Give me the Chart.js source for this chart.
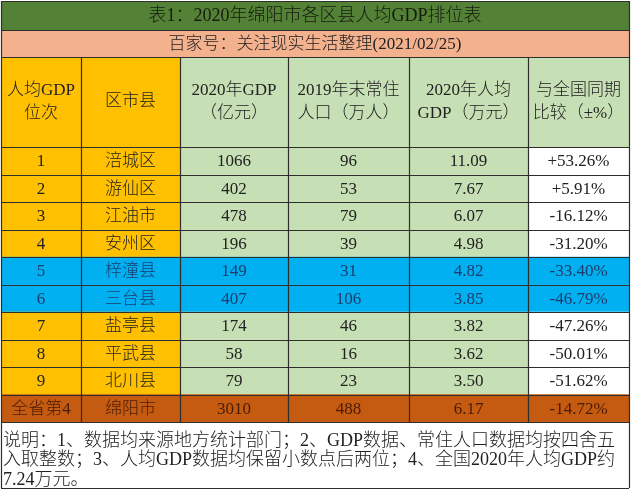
<!DOCTYPE HTML>
<html>
<head>
  <meta charset="utf-8">
  <script src="https://cdn.jsdelivr.net/npm/chart.js"></script>
  <style>
    body { margin: 0; background: #fff; }
  </style>
</head>
<body>
  <canvas id="tableChart" width="632" height="500"></canvas>

  <script>
    // Table data
    var RANKS = ['1', '2', '3', '4', '5', '6', '7', '8', '9', '全省第4'];
    var DISTRICTS = ['涪城区', '游仙区', '江油市', '安州区', '梓潼县', '三台县', '盐亭县', '平武县', '北川县', '绵阳市'];
    var GDP_2020 = [1066, 402, 478, 196, 149, 407, 174, 58, 79, 3010];
    var POP_2019 = [96, 53, 79, 39, 31, 106, 46, 16, 23, 488];
    var GDP_PER_CAPITA = [11.09, 7.67, 6.07, 4.98, 4.82, 3.85, 3.82, 3.62, 3.50, 6.17];
    var VS_NATIONAL = [53.26, 5.91, -16.12, -31.20, -33.40, -46.79, -47.26, -50.01, -51.62, -14.72];

    var HEADERS = [
      ['人均GDP', '位次'],
      ['区市县'],
      ['2020年GDP', '（亿元）'],
      ['2019年末常住', '人口（万人）'],
      ['2020年人均', 'GDP（万元）'],
      ['与全国同期', '比较（±%）']
    ];
    var TITLE = '表1：2020年绵阳市各区县人均GDP排位表';
    var SUBTITLE = '百家号：关注现实生活整理(2021/02/25)';
    var NOTE = [
      '说明：1、数据均来源地方统计部门；2、GDP数据、常住人口数据均按四舍五',
      '入取整数；3、人均GDP数据均保留小数点后两位；4、全国2020年人均GDP约',
      '7.24万元。'
    ];
    var BLUE_ROWS = [4, 5];
    var TOTAL_ROW = 9;

    // layout (pixels of the table)
    var COL_EDGES = [1, 81, 180, 288, 409, 528, 629];
    var TITLE_TOP = 1, TITLE_BOTTOM = 30, SUB_BOTTOM = 57, NOTE_BOTTOM = 488;

    // colours
    var ORANGE = '#ffc000', LIGHT_GREEN = '#c6dfb4', BLUE = '#00b0f0',
        BROWN = '#c55a11', WHITE = '#ffffff', TITLE_GREEN = '#538135', SALMON = '#f4b18e';
    var FONT = '"Liberation Serif", "Noto Sans CJK SC", serif';

    function cellText(row, col) {
      switch (col) {
        case 0: return RANKS[row];
        case 1: return DISTRICTS[row];
        case 2: return String(GDP_2020[row]);
        case 3: return String(POP_2019[row]);
        case 4: return GDP_PER_CAPITA[row].toFixed(2);
        default:
          var v = VS_NATIONAL[row];
          return (v > 0 ? '+' : '') + v.toFixed(2) + '%';
      }
    }

    function cellColor(row, col) {
      if (BLUE_ROWS.indexOf(row) >= 0) return BLUE;
      if (row === TOTAL_ROW) return BROWN;
      if (col < 2) return ORANGE;
      if (col === 5) return WHITE;
      return LIGHT_GREEN;
    }

    function textColor(row) {
      if (BLUE_ROWS.indexOf(row) >= 0) return '#1d3c6e';
      if (row === TOTAL_ROW) return '#4a1c02';
      return '#222';
    }

    // one floating-bar dataset per table column
    var datasets = HEADERS.map(function (h, col) {
      return {
        label: h.join(''),
        data: RANKS.map(function () { return [COL_EDGES[col], COL_EDGES[col + 1]]; }),
        backgroundColor: function (c) { return cellColor(c.dataIndex, col); },
        borderWidth: 0,
        grouped: false,
        barPercentage: 1,
        categoryPercentage: 1
      };
    });

    var tablePlugin = {
      id: 'tablePlugin',
      beforeDatasetsDraw: function (chart) {
        var ctx = chart.ctx, a = chart.chartArea, x = chart.scales.x;
        var left = x.getPixelForValue(COL_EDGES[0]), right = x.getPixelForValue(COL_EDGES[6]);
        ctx.save();
        ctx.fillStyle = TITLE_GREEN;
        ctx.fillRect(left, TITLE_TOP, right - left, TITLE_BOTTOM - TITLE_TOP);
        ctx.fillStyle = SALMON;
        ctx.fillRect(left, TITLE_BOTTOM, right - left, SUB_BOTTOM - TITLE_BOTTOM);
        for (var c = 0; c < 6; c++) {
          var x0 = x.getPixelForValue(COL_EDGES[c]), x1 = x.getPixelForValue(COL_EDGES[c + 1]);
          ctx.fillStyle = c < 2 ? ORANGE : LIGHT_GREEN;
          ctx.fillRect(x0, SUB_BOTTOM, x1 - x0, a.top - SUB_BOTTOM);
        }
        ctx.restore();
      },
      afterDatasetsDraw: function (chart) {
        var ctx = chart.ctx, a = chart.chartArea, x = chart.scales.x, y = chart.scales.y;
        var left = x.getPixelForValue(COL_EDGES[0]), right = x.getPixelForValue(COL_EDGES[6]);
        var step = (a.bottom - a.top) / RANKS.length;
        ctx.save();

        // grid lines
        ctx.strokeStyle = '#2e2e2e';
        ctx.lineWidth = 1.2;
        ctx.beginPath();
        [TITLE_TOP, TITLE_BOTTOM, SUB_BOTTOM, NOTE_BOTTOM].forEach(function (yy) {
          ctx.moveTo(left, yy + 0.5); ctx.lineTo(right, yy + 0.5);
        });
        for (var r = 0; r <= RANKS.length; r++) {
          var yy = Math.round(a.top + r * step) + 0.5;
          ctx.moveTo(left, yy); ctx.lineTo(right, yy);
        }
        COL_EDGES.forEach(function (e, i) {
          var xx = Math.round(x.getPixelForValue(e)) + 0.5;
          if (i === 0 || i === COL_EDGES.length - 1) {
            ctx.moveTo(xx, TITLE_TOP); ctx.lineTo(xx, NOTE_BOTTOM);
          } else {
            ctx.moveTo(xx, SUB_BOTTOM); ctx.lineTo(xx, a.bottom);
          }
        });
        ctx.stroke();

        ctx.textAlign = 'center';
        ctx.textBaseline = 'middle';

        // title rows
        ctx.fillStyle = '#161b10';
        ctx.font = '300 18px ' + FONT;
        ctx.fillText(TITLE, (left + right) / 2, (TITLE_TOP + TITLE_BOTTOM) / 2 + 1);
        ctx.fillStyle = '#222';
        ctx.font = '300 17px ' + FONT;
        ctx.fillText(SUBTITLE, (left + right) / 2, (TITLE_BOTTOM + SUB_BOTTOM) / 2 + 1);

        // header
        var hMid = (SUB_BOTTOM + a.top) / 2;
        HEADERS.forEach(function (lines, c) {
          var cx = (x.getPixelForValue(COL_EDGES[c]) + x.getPixelForValue(COL_EDGES[c + 1])) / 2;
          lines.forEach(function (t, i) {
            var off = (i - (lines.length - 1) / 2) * 23;
            ctx.fillText(t, cx, hMid + off);
          });
        });

        // body cells
        RANKS.forEach(function (rank, row) {
          var cy = y.getPixelForValue(row) + 1;
          ctx.fillStyle = textColor(row);
          for (var c = 0; c < 6; c++) {
            var cx = (x.getPixelForValue(COL_EDGES[c]) + x.getPixelForValue(COL_EDGES[c + 1])) / 2;
            ctx.fillText(cellText(row, c), cx, cy);
          }
        });

        // note
        ctx.textAlign = 'left';
        ctx.fillStyle = '#222';
        ctx.font = '300 18px ' + FONT;
        NOTE.forEach(function (t, i) {
          ctx.fillText(t, left + 2, a.bottom + 19 + i * 19.5);
        });
        ctx.restore();
      }
    };

    var myContext = document.getElementById('tableChart').getContext('2d');
    var myChart = new Chart(myContext, {
      type: 'bar',
      data: { labels: RANKS, datasets: datasets },
      options: {
        indexAxis: 'y',
        responsive: false,
        animation: false,
        layout: { padding: { top: 147, bottom: 78, left: 1, right: 3 } },
        plugins: { legend: { display: false }, tooltip: { enabled: false } },
        scales: {
          x: { type: 'linear', min: 1, max: 629, display: false },
          y: { display: false, offset: true }
        }
      },
      plugins: [tablePlugin]
    });
  </script>
</body>
</html>
